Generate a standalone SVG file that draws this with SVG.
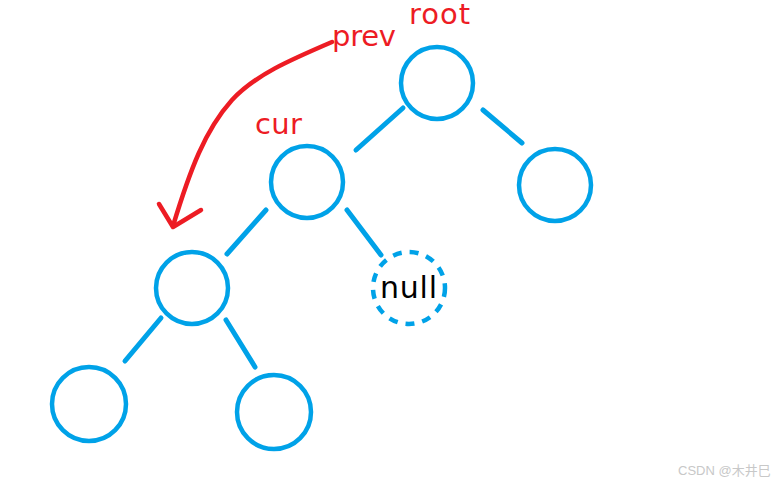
<svg xmlns="http://www.w3.org/2000/svg" width="782" height="482" viewBox="0 0 782 482">
<style>
.n{fill:none;stroke:#00a2e8;stroke-width:4.5}
.e{stroke:#00a2e8;stroke-width:5;stroke-linecap:round;fill:none}
.lbl{font-family:"DejaVu Sans","Liberation Sans",sans-serif;fill:#ed1c24;font-size:29px}
.r{stroke:#ed1c24;stroke-width:4.5;fill:none;stroke-linecap:round;stroke-linejoin:round}
</style>
<rect width="782" height="482" fill="#fff"/>
<g id="root"><circle class="n" cx="437" cy="83" r="36"/></g>
<g id="cur"><circle class="n" cx="307" cy="182" r="36"/></g>
<g id="rightChild"><circle class="n" cx="555" cy="185" r="36"/></g>
<g id="leftChild"><circle class="n" cx="192" cy="288" r="36"/></g>
<g id="nullNode"><circle class="n" cx="409" cy="288" r="36" stroke-dasharray="9,8"/>
<text x="380" y="298" font-family="DejaVu Sans,Liberation Sans,sans-serif" font-size="30" fill="#000" textLength="57">null</text></g>
<g id="bottomLeft"><circle class="n" cx="89" cy="404" r="37"/></g>
<g id="bottomRight"><circle class="n" cx="274" cy="412" r="37"/></g>
<g id="connectors">
<line class="e" x1="403" y1="108" x2="356" y2="150"/>
<line class="e" x1="483" y1="110" x2="522" y2="143"/>
<line class="e" x1="266" y1="210" x2="227" y2="254"/>
<line class="e" x1="347" y1="210" x2="381" y2="255"/>
<line class="e" x1="161" y1="318" x2="125" y2="361"/>
<line class="e" x1="226" y1="320" x2="255" y2="367"/>
<path class="r" d="M332,42 C290,60 255,75 232,100 C205,130 190,170 173,226"/>
<path class="r" d="M159,204 L173,227 L201,210"/>
</g>
<g id="labels">
<text class="lbl" x="409" y="24" textLength="61">root</text>
<text class="lbl" x="332" y="46" textLength="64">prev</text>
<text class="lbl" x="255" y="134" textLength="47">cur</text>
</g>
<text x="678" y="475" font-family="Liberation Sans,Noto Sans CJK SC,sans-serif" font-size="13" fill="#c8c8c8">CSDN @木井巳</text>
</svg>
